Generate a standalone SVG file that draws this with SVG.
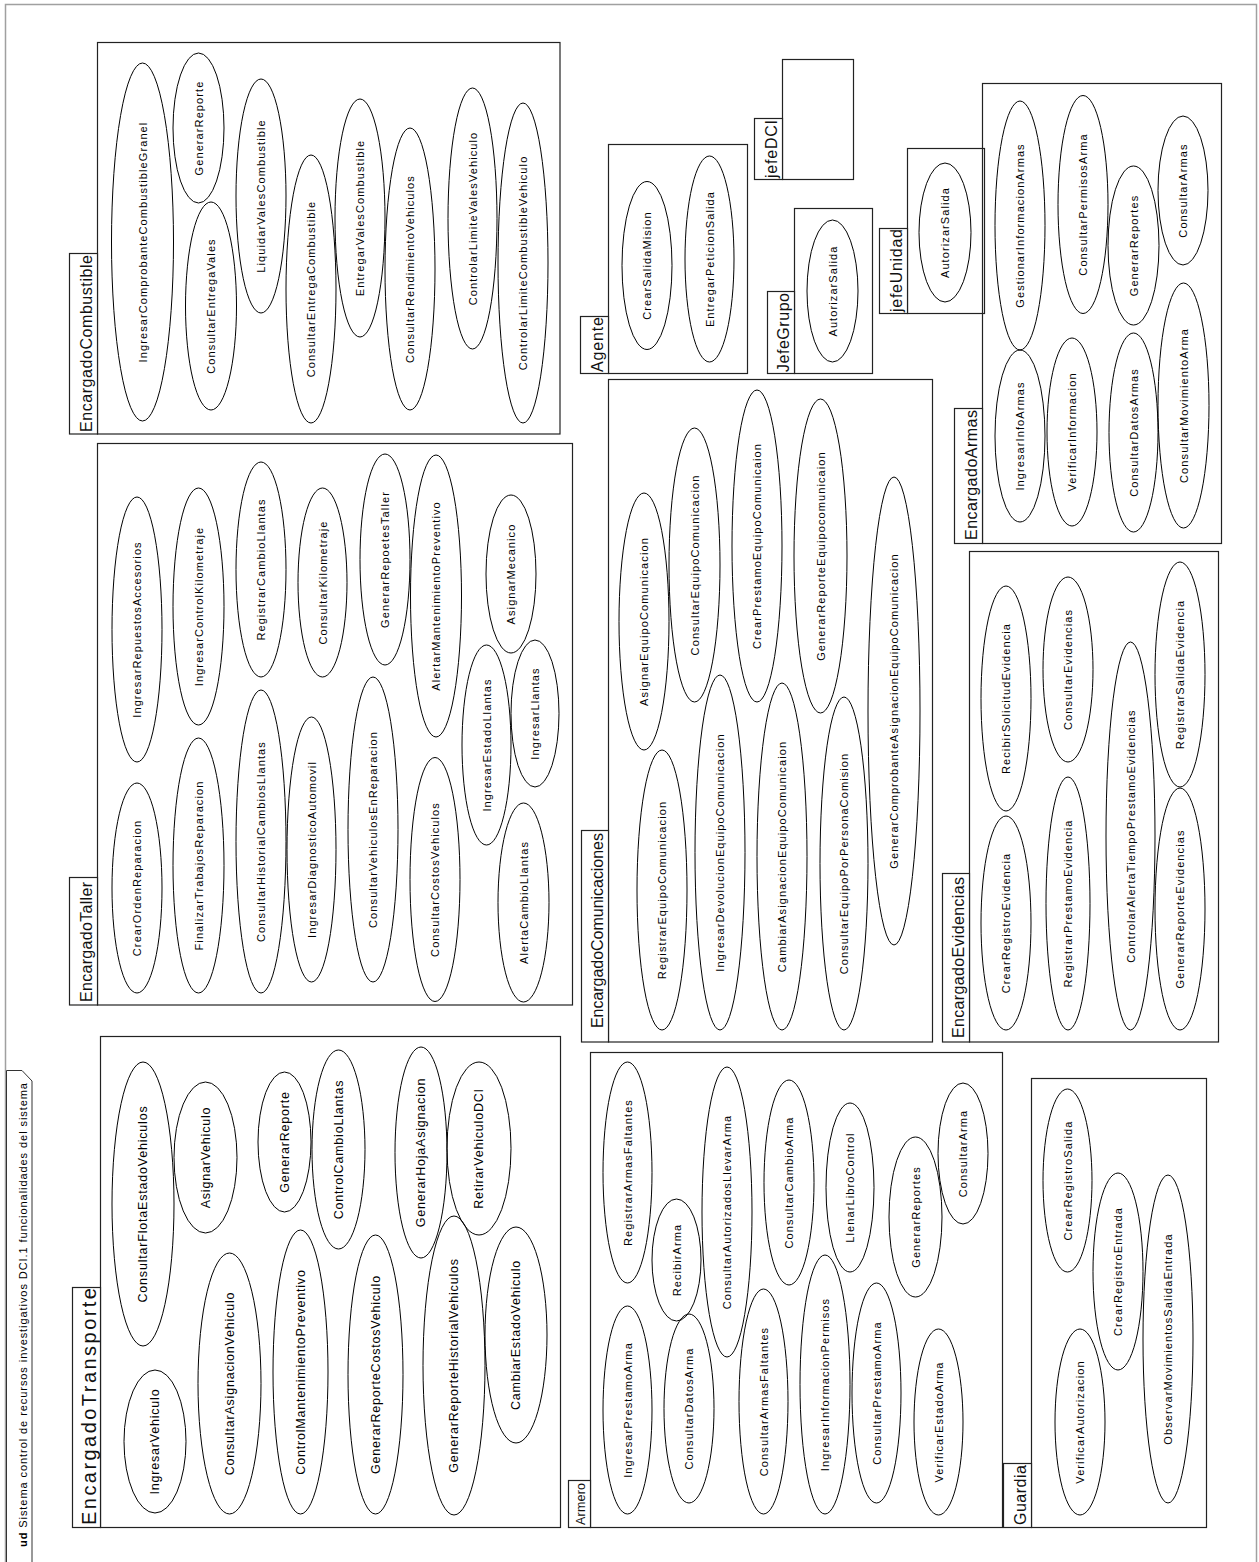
<svg xmlns="http://www.w3.org/2000/svg" width="1259" height="1562" viewBox="0 0 1259 1562">
<style>
.frame{fill:#fff;stroke:#a0a0a0;stroke-width:1.5}
.tabud{fill:#fff;stroke:#333;stroke-width:1}
.box{fill:none;stroke:#222;stroke-width:1.2}
.tab{fill:#fff;stroke:#222;stroke-width:1.2}
.uc ellipse{fill:none;stroke:#000;stroke-width:1}
.uc text{font-family:"Liberation Sans",Arial,sans-serif;font-size:11px;letter-spacing:1.1px;text-anchor:middle;dominant-baseline:central;fill:#000}
.big .uc text{font-size:12.5px;letter-spacing:0.8px}
.lbl{font-family:"Liberation Sans",Arial,sans-serif;font-size:16px;text-anchor:middle;dominant-baseline:central;fill:#111}
.ud{font-family:"Liberation Sans",Arial,sans-serif;font-size:11px;dominant-baseline:central;fill:#000}
</style>
<rect class="frame" x="5.5" y="4.5" width="1251" height="1580"/>
<polygon class="tabud" points="6.5,1575 6.5,1070.5 22,1070.5 32,1081 32,1575"/>
<text class="ud" x="23" y="1547" transform="rotate(-90 23 1547)" textLength="464" lengthAdjust="spacing"><tspan font-weight="bold">ud</tspan> Sistema control de recursos investigativos DCI.1 funcionalidades del sistema</text>
<g id="connectors"/>

<g id="EncargadoCombustible">
<rect class="box" x="97.5" y="42.5" width="462.5" height="391.5"/>
<rect class="tab" x="69.5" y="253.5" width="28" height="180.5"/>
<text class="lbl" x="86" y="343.5" transform="rotate(-90 86 343.5)" textLength="177" lengthAdjust="spacing">EncargadoCombustible</text>
<g class="uc" id="uc-IngresarComprobanteCombustibleGranel"><ellipse cx="142.5" cy="242" rx="31" ry="179"/><text x="142.5" y="242" transform="rotate(-90 142.5 242)">IngresarComprobanteCombustibleGranel</text></g>
<g class="uc" id="uc-GenerarReporte-comb"><ellipse cx="198.5" cy="128" rx="25.5" ry="75"/><text x="198.5" y="128" transform="rotate(-90 198.5 128)">GenerarReporte</text></g>
<g class="uc" id="uc-ConsultarEntregaVales"><ellipse cx="211" cy="306" rx="25.5" ry="104"/><text x="211" y="306" transform="rotate(-90 211 306)">ConsultarEntregaVales</text></g>
<g class="uc" id="uc-LiquidarValesCombustible"><ellipse cx="261" cy="196" rx="25" ry="117"/><text x="261" y="196" transform="rotate(-90 261 196)">LiquidarValesCombustible</text></g>
<g class="uc" id="uc-ConsultarEntregaCombustible"><ellipse cx="311" cy="289" rx="25" ry="134"/><text x="311" y="289" transform="rotate(-90 311 289)">ConsultarEntregaCombustible</text></g>
<g class="uc" id="uc-EntregarValesCombustible"><ellipse cx="360" cy="218" rx="25" ry="119"/><text x="360" y="218" transform="rotate(-90 360 218)">EntregarValesCombustible</text></g>
<g class="uc" id="uc-ConsultarRendimientoVehiculos"><ellipse cx="410" cy="269" rx="25" ry="141"/><text x="410" y="269" transform="rotate(-90 410 269)">ConsultarRendimientoVehiculos</text></g>
<g class="uc" id="uc-ControlarLimiteValesVehiculo"><ellipse cx="472.5" cy="218.5" rx="24.5" ry="130.5"/><text x="472.5" y="218.5" transform="rotate(-90 472.5 218.5)">ControlarLimiteValesVehiculo</text></g>
<g class="uc" id="uc-ControlarLimiteCombustibleVehiculo"><ellipse cx="523" cy="263" rx="25" ry="160"/><text x="523" y="263" transform="rotate(-90 523 263)">ControlarLimiteCombustibleVehiculo</text></g>
</g>

<g id="EncargadoTaller">
<rect class="box" x="97.5" y="443.5" width="475" height="561.5"/>
<rect class="tab" x="69.5" y="877.5" width="28" height="127.5"/>
<text class="lbl" x="86" y="942" transform="rotate(-90 86 942)" textLength="120" lengthAdjust="spacing">EncargadoTaller</text>
<g class="uc" id="uc-CrearOrdenReparacion"><ellipse cx="137" cy="888" rx="25" ry="105"/><text x="137" y="888" transform="rotate(-90 137 888)">CrearOrdenReparacion</text></g>
<g class="uc" id="uc-IngresarRepuestosAccesorios"><ellipse cx="137" cy="629.5" rx="25" ry="132.5"/><text x="137" y="629.5" transform="rotate(-90 137 629.5)">IngresarRepuestosAccesorios</text></g>
<g class="uc" id="uc-FinalizarTrabajosReparacion"><ellipse cx="198.5" cy="865.5" rx="25.5" ry="127.5"/><text x="198.5" y="865.5" transform="rotate(-90 198.5 865.5)">FinalizarTrabajosReparacion</text></g>
<g class="uc" id="uc-IngresarControlKilometraje"><ellipse cx="198.5" cy="606.5" rx="25.5" ry="118.5"/><text x="198.5" y="606.5" transform="rotate(-90 198.5 606.5)">IngresarControlKilometraje</text></g>
<g class="uc" id="uc-ConsultarHistorialCambiosLlantas"><ellipse cx="261" cy="841.5" rx="25" ry="151.5"/><text x="261" y="841.5" transform="rotate(-90 261 841.5)">ConsultarHistorialCambiosLlantas</text></g>
<g class="uc" id="uc-RegistrarCambioLlantas"><ellipse cx="261" cy="569.5" rx="25" ry="107.5"/><text x="261" y="569.5" transform="rotate(-90 261 569.5)">RegistrarCambioLlantas</text></g>
<g class="uc" id="uc-IngresarDiagnosticoAutomovil"><ellipse cx="311.5" cy="849.5" rx="24.5" ry="132.5"/><text x="311.5" y="849.5" transform="rotate(-90 311.5 849.5)">IngresarDiagnosticoAutomovil</text></g>
<g class="uc" id="uc-ConsultarKilometraje"><ellipse cx="322.5" cy="582.5" rx="24.5" ry="94.5"/><text x="322.5" y="582.5" transform="rotate(-90 322.5 582.5)">ConsultarKilometraje</text></g>
<g class="uc" id="uc-ConsultarVehiculosEnReparacion"><ellipse cx="373" cy="829.5" rx="25" ry="152.5"/><text x="373" y="829.5" transform="rotate(-90 373 829.5)">ConsultarVehiculosEnReparacion</text></g>
<g class="uc" id="uc-GenerarRepoetesTaller"><ellipse cx="385" cy="559.5" rx="25" ry="105.5"/><text x="385" y="559.5" transform="rotate(-90 385 559.5)">GenerarRepoetesTaller</text></g>
<g class="uc" id="uc-AlertarMantenimientoPreventivo"><ellipse cx="436" cy="596" rx="25.5" ry="141"/><text x="436" y="596" transform="rotate(-90 436 596)">AlertarMantenimientoPreventivo</text></g>
<g class="uc" id="uc-ConsultarCostosVehiculos"><ellipse cx="435" cy="879.5" rx="25" ry="122"/><text x="435" y="879.5" transform="rotate(-90 435 879.5)">ConsultarCostosVehiculos</text></g>
<g class="uc" id="uc-IngresarEstadoLlantas"><ellipse cx="486.5" cy="745" rx="24.5" ry="100"/><text x="486.5" y="745" transform="rotate(-90 486.5 745)">IngresarEstadoLlantas</text></g>
<g class="uc" id="uc-AlertaCambioLlantas"><ellipse cx="523.5" cy="902.5" rx="25.5" ry="99.5"/><text x="523.5" y="902.5" transform="rotate(-90 523.5 902.5)">AlertaCambioLlantas</text></g>
<g class="uc" id="uc-IngresarLlantas"><ellipse cx="535" cy="713.5" rx="24" ry="73.5"/><text x="535" y="713.5" transform="rotate(-90 535 713.5)">IngresarLlantas</text></g>
<g class="uc" id="uc-AsignarMecanico"><ellipse cx="511" cy="574" rx="25" ry="79"/><text x="511" y="574" transform="rotate(-90 511 574)">AsignarMecanico</text></g>
</g>

<g id="EncargadoTransporte" class="big">
<rect class="box" x="100.5" y="1036.5" width="460" height="491"/>
<rect class="tab" x="72.5" y="1287.5" width="28" height="240"/>
<text class="lbl" x="88.5" y="1406.5" transform="rotate(-90 88.5 1406.5)" style="font-size:20px" textLength="237" lengthAdjust="spacing">EncargadoTransporte</text>
<g class="uc" id="uc-IngresarVehiculo"><ellipse cx="155" cy="1441.5" rx="31" ry="71.5"/><text x="155" y="1441.5" transform="rotate(-90 155 1441.5)">IngresarVehiculo</text></g>
<g class="uc" id="uc-ConsultarFlotaEstadoVehiculos"><ellipse cx="143" cy="1204" rx="31" ry="142"/><text x="143" y="1204" transform="rotate(-90 143 1204)">ConsultarFlotaEstadoVehiculos</text></g>
<g class="uc" id="uc-AsignarVehiculo"><ellipse cx="205.5" cy="1157.5" rx="31.5" ry="75.5"/><text x="205.5" y="1157.5" transform="rotate(-90 205.5 1157.5)">AsignarVehiculo</text></g>
<g class="uc" id="uc-ConsultarAsignacionVehiculo"><ellipse cx="229.5" cy="1383.5" rx="31.5" ry="130.5"/><text x="229.5" y="1383.5" transform="rotate(-90 229.5 1383.5)">ConsultarAsignacionVehiculo</text></g>
<g class="uc" id="uc-GenerarReporte-trans"><ellipse cx="284.5" cy="1142" rx="26.5" ry="70"/><text x="284.5" y="1142" transform="rotate(-90 284.5 1142)">GenerarReporte</text></g>
<g class="uc" id="uc-ControlCambioLlantas"><ellipse cx="338.5" cy="1149.5" rx="26.5" ry="99.5"/><text x="338.5" y="1149.5" transform="rotate(-90 338.5 1149.5)">ControlCambioLlantas</text></g>
<g class="uc" id="uc-ControlMantenimientoPreventivo"><ellipse cx="300.5" cy="1372" rx="27.5" ry="142"/><text x="300.5" y="1372" transform="rotate(-90 300.5 1372)">ControlMantenimientoPreventivo</text></g>
<g class="uc" id="uc-GenerarReporteCostosVehiculo"><ellipse cx="375.5" cy="1374.5" rx="27.5" ry="139.5"/><text x="375.5" y="1374.5" transform="rotate(-90 375.5 1374.5)">GenerarReporteCostosVehiculo</text></g>
<g class="uc" id="uc-GenerarHojaAsignacion"><ellipse cx="421" cy="1152.5" rx="26" ry="105.5"/><text x="421" y="1152.5" transform="rotate(-90 421 1152.5)">GenerarHojaAsignacion</text></g>
<g class="uc" id="uc-GenerarReporteHistorialVehiculos"><ellipse cx="454" cy="1365.5" rx="31" ry="149.5"/><text x="454" y="1365.5" transform="rotate(-90 454 1365.5)">GenerarReporteHistorialVehiculos</text></g>
<g class="uc" id="uc-RetirarVehiculoDCI"><ellipse cx="479" cy="1148.5" rx="32" ry="86.5"/><text x="479" y="1148.5" transform="rotate(-90 479 1148.5)">RetirarVehiculoDCI</text></g>
<g class="uc" id="uc-CambiarEstadoVehiculo"><ellipse cx="516" cy="1335" rx="31" ry="108"/><text x="516" y="1335" transform="rotate(-90 516 1335)">CambiarEstadoVehiculo</text></g>
</g>

<g id="Agente">
<rect class="box" x="608.5" y="144.5" width="139" height="229"/>
<rect class="tab" x="580.5" y="316.5" width="28" height="57"/>
<text class="lbl" x="597" y="344.5" transform="rotate(-90 597 344.5)" textLength="55" lengthAdjust="spacing">Agente</text>
<g class="uc" id="uc-CrearSalidaMision"><ellipse cx="647" cy="265.5" rx="25" ry="84"/><text x="647" y="265.5" transform="rotate(-90 647 265.5)">CrearSalidaMision</text></g>
<g class="uc" id="uc-EntregarPeticionSalida"><ellipse cx="709.5" cy="259" rx="24.5" ry="103"/><text x="709.5" y="259" transform="rotate(-90 709.5 259)">EntregarPeticionSalida</text></g>
</g>

<g id="jefeDCI">
<rect class="box" x="782.5" y="59.5" width="71" height="120"/>
<rect class="tab" x="754.5" y="118.5" width="28" height="61"/>
<text class="lbl" x="771" y="149" transform="rotate(-90 771 149)" textLength="58" lengthAdjust="spacing">jefeDCI</text>
</g>

<g id="JefeGrupo">
<rect class="box" x="794.5" y="208.5" width="78" height="165"/>
<rect class="tab" x="767.5" y="291.5" width="27" height="82"/>
<text class="lbl" x="783.5" y="332.5" transform="rotate(-90 783.5 332.5)" textLength="79" lengthAdjust="spacing">JefeGrupo</text>
<g class="uc" id="uc-AutorizarSalida-grupo"><ellipse cx="832.5" cy="291" rx="25.5" ry="71"/><text x="832.5" y="291" transform="rotate(-90 832.5 291)">AutorizarSalida</text></g>
</g>

<g id="jefeUnidad">
<rect class="box" x="907.5" y="148.5" width="77" height="165"/>
<rect class="tab" x="879.5" y="228.5" width="28" height="85"/>
<text class="lbl" x="896" y="270.5" transform="rotate(-90 896 270.5)" textLength="83" lengthAdjust="spacing">jefeUnidad</text>
<g class="uc" id="uc-AutorizarSalida-unidad"><ellipse cx="945" cy="232.5" rx="26" ry="69.5"/><text x="945" y="232.5" transform="rotate(-90 945 232.5)">AutorizarSalida</text></g>
</g>

<g id="EncargadoArmas">
<rect class="box" x="982.5" y="83.5" width="239" height="460"/>
<rect class="tab" x="954.5" y="408.5" width="28" height="135"/>
<text class="lbl" x="971" y="475" transform="rotate(-90 971 475)" textLength="130" lengthAdjust="spacing">EncargadoArmas</text>
<g class="uc" id="uc-GestionarInformacionArmas"><ellipse cx="1020" cy="225.5" rx="25" ry="124.5"/><text x="1020" y="225.5" transform="rotate(-90 1020 225.5)">GestionarInformacionArmas</text></g>
<g class="uc" id="uc-ConsultarPermisosArma"><ellipse cx="1083" cy="204.5" rx="25" ry="109"/><text x="1083" y="204.5" transform="rotate(-90 1083 204.5)">ConsultarPermisosArma</text></g>
<g class="uc" id="uc-GenerarReportes-armas"><ellipse cx="1133.5" cy="245.5" rx="25.5" ry="79.5"/><text x="1133.5" y="245.5" transform="rotate(-90 1133.5 245.5)">GenerarReportes</text></g>
<g class="uc" id="uc-ConsultarArmas"><ellipse cx="1183" cy="190.5" rx="25" ry="74.5"/><text x="1183" y="190.5" transform="rotate(-90 1183 190.5)">ConsultarArmas</text></g>
<g class="uc" id="uc-IngresarInfoArmas"><ellipse cx="1020" cy="436" rx="25" ry="86"/><text x="1020" y="436" transform="rotate(-90 1020 436)">IngresarInfoArmas</text></g>
<g class="uc" id="uc-VerificarInformacion"><ellipse cx="1072" cy="432" rx="25" ry="94"/><text x="1072" y="432" transform="rotate(-90 1072 432)">VerificarInformacion</text></g>
<g class="uc" id="uc-ConsultarDatosArmas"><ellipse cx="1133.5" cy="432.5" rx="24.5" ry="99.5"/><text x="1133.5" y="432.5" transform="rotate(-90 1133.5 432.5)">ConsultarDatosArmas</text></g>
<g class="uc" id="uc-ConsultarMovimientoArma"><ellipse cx="1183.5" cy="405.5" rx="25.5" ry="122.5"/><text x="1183.5" y="405.5" transform="rotate(-90 1183.5 405.5)">ConsultarMovimientoArma</text></g>
</g>

<g id="EncargadoComunicaciones">
<rect class="box" x="608.5" y="379.5" width="324" height="662.5"/>
<rect class="tab" x="581.5" y="830.5" width="27" height="211.5"/>
<text class="lbl" x="597.5" y="930.5" transform="rotate(-90 597.5 930.5)" textLength="195" lengthAdjust="spacing">EncargadoComunicaciones</text>
<g class="uc" id="uc-AsignarEquipoComunicacion"><ellipse cx="644" cy="621.5" rx="25" ry="128.5"/><text x="644" y="621.5" transform="rotate(-90 644 621.5)">AsignarEquipoComunicacion</text></g>
<g class="uc" id="uc-RegistrarEquipoComunicacion"><ellipse cx="662" cy="890" rx="25" ry="140"/><text x="662" y="890" transform="rotate(-90 662 890)">RegistrarEquipoComunicacion</text></g>
<g class="uc" id="uc-ConsultarEquipoComunicacion"><ellipse cx="694.5" cy="565" rx="25.5" ry="137"/><text x="694.5" y="565" transform="rotate(-90 694.5 565)">ConsultarEquipoComunicacion</text></g>
<g class="uc" id="uc-IngresarDevolucionEquipoComunicacion"><ellipse cx="720" cy="852.5" rx="25" ry="177.5"/><text x="720" y="852.5" transform="rotate(-90 720 852.5)">IngresarDevolucionEquipoComunicacion</text></g>
<g class="uc" id="uc-CrearPrestamoEquipoComunicaion"><ellipse cx="757" cy="546" rx="25" ry="156"/><text x="757" y="546" transform="rotate(-90 757 546)">CrearPrestamoEquipoComunicaion</text></g>
<g class="uc" id="uc-CambiarAsignacionEquipoComunicaion"><ellipse cx="782" cy="856.5" rx="25" ry="173.5"/><text x="782" y="856.5" transform="rotate(-90 782 856.5)">CambiarAsignacionEquipoComunicaion</text></g>
<g class="uc" id="uc-GenerarReporteEquipocomunicaion"><ellipse cx="820.5" cy="556" rx="26.5" ry="157"/><text x="820.5" y="556" transform="rotate(-90 820.5 556)">GenerarReporteEquipocomunicaion</text></g>
<g class="uc" id="uc-ConsultarEquipoPorPersonaComision"><ellipse cx="844" cy="863.5" rx="24" ry="166.5"/><text x="844" y="863.5" transform="rotate(-90 844 863.5)">ConsultarEquipoPorPersonaComision</text></g>
<g class="uc" id="uc-GenerarComprobanteAsignacionEquipoComunicacion"><ellipse cx="894" cy="711" rx="26" ry="234"/><text x="894" y="711" transform="rotate(-90 894 711)">GenerarComprobanteAsignacionEquipoComunicacion</text></g>
</g>

<g id="EncargadoEvidencias">
<rect class="box" x="969.5" y="551.5" width="249" height="490.5"/>
<rect class="tab" x="942.5" y="873.5" width="27" height="168.5"/>
<text class="lbl" x="958.5" y="957.5" transform="rotate(-90 958.5 957.5)" textLength="161" lengthAdjust="spacing">EncargadoEvidencias</text>
<g class="uc" id="uc-RecibirSolicitudEvidencia"><ellipse cx="1006" cy="698.5" rx="25" ry="112.5"/><text x="1006" y="698.5" transform="rotate(-90 1006 698.5)">RecibirSolicitudEvidencia</text></g>
<g class="uc" id="uc-CrearRegistroEvidencia"><ellipse cx="1006" cy="923" rx="25" ry="107"/><text x="1006" y="923" transform="rotate(-90 1006 923)">CrearRegistroEvidencia</text></g>
<g class="uc" id="uc-ConsultarEvidencias"><ellipse cx="1068" cy="669.5" rx="25" ry="92.5"/><text x="1068" y="669.5" transform="rotate(-90 1068 669.5)">ConsultarEvidencias</text></g>
<g class="uc" id="uc-RegistrarPrestamoEvidencia"><ellipse cx="1068" cy="903.5" rx="22" ry="126.5"/><text x="1068" y="903.5" transform="rotate(-90 1068 903.5)">RegistrarPrestamoEvidencia</text></g>
<g class="uc" id="uc-ControlarAlertaTiempoPrestamoEvidencias"><ellipse cx="1130.5" cy="836" rx="24.5" ry="194"/><text x="1130.5" y="836" transform="rotate(-90 1130.5 836)">ControlarAlertaTiempoPrestamoEvidencias</text></g>
<g class="uc" id="uc-RegistrarSalidaEvidencia"><ellipse cx="1180" cy="674.5" rx="25" ry="112.5"/><text x="1180" y="674.5" transform="rotate(-90 1180 674.5)">RegistrarSalidaEvidencia</text></g>
<g class="uc" id="uc-GenerarReporteEvidencias"><ellipse cx="1180" cy="909" rx="25" ry="121"/><text x="1180" y="909" transform="rotate(-90 1180 909)">GenerarReporteEvidencias</text></g>
</g>

<g id="Armero">
<rect class="box" x="590.5" y="1052.5" width="412" height="475"/>
<rect class="tab" x="568.5" y="1480.5" width="22" height="47"/>
<text class="lbl" x="580.5" y="1504" transform="rotate(-90 580.5 1504)" style="font-size:12.5px" textLength="42" lengthAdjust="spacing">Armero</text>
<g class="uc" id="uc-RegistrarArmasFaltantes"><ellipse cx="627.5" cy="1172.5" rx="24.5" ry="110.5"/><text x="627.5" y="1172.5" transform="rotate(-90 627.5 1172.5)">RegistrarArmasFaltantes</text></g>
<g class="uc" id="uc-IngresarPrestamoArma"><ellipse cx="627.5" cy="1410" rx="24.5" ry="104"/><text x="627.5" y="1410" transform="rotate(-90 627.5 1410)">IngresarPrestamoArma</text></g>
<g class="uc" id="uc-RecibirArma"><ellipse cx="676.5" cy="1260" rx="24.5" ry="61"/><text x="676.5" y="1260" transform="rotate(-90 676.5 1260)">RecibirArma</text></g>
<g class="uc" id="uc-ConsultarDatosArma"><ellipse cx="689" cy="1408.5" rx="25" ry="94.5"/><text x="689" y="1408.5" transform="rotate(-90 689 1408.5)">ConsultarDatosArma</text></g>
<g class="uc" id="uc-ConsultarAutorizadosLlevarArma"><ellipse cx="727" cy="1212" rx="25" ry="145"/><text x="727" y="1212" transform="rotate(-90 727 1212)">ConsultarAutorizadosLlevarArma</text></g>
<g class="uc" id="uc-ConsultarArmasFaltantes"><ellipse cx="763.5" cy="1401.5" rx="24.5" ry="112.5"/><text x="763.5" y="1401.5" transform="rotate(-90 763.5 1401.5)">ConsultarArmasFaltantes</text></g>
<g class="uc" id="uc-ConsultarCambioArma"><ellipse cx="789" cy="1182.5" rx="25" ry="102.5"/><text x="789" y="1182.5" transform="rotate(-90 789 1182.5)">ConsultarCambioArma</text></g>
<g class="uc" id="uc-IngresarInformacionPermisos"><ellipse cx="825" cy="1384.5" rx="25" ry="129.5"/><text x="825" y="1384.5" transform="rotate(-90 825 1384.5)">IngresarInformacionPermisos</text></g>
<g class="uc" id="uc-LlenarLibroControl"><ellipse cx="850" cy="1187.5" rx="24" ry="84.5"/><text x="850" y="1187.5" transform="rotate(-90 850 1187.5)">LlenarLibroControl</text></g>
<g class="uc" id="uc-ConsultarPrestamoArma"><ellipse cx="876.5" cy="1393" rx="24.5" ry="110"/><text x="876.5" y="1393" transform="rotate(-90 876.5 1393)">ConsultarPrestamoArma</text></g>
<g class="uc" id="uc-GenerarReportes-armero"><ellipse cx="915.5" cy="1217" rx="26.5" ry="80"/><text x="915.5" y="1217" transform="rotate(-90 915.5 1217)">GenerarReportes</text></g>
<g class="uc" id="uc-ConsultarArma"><ellipse cx="963" cy="1153.5" rx="25" ry="70.5"/><text x="963" y="1153.5" transform="rotate(-90 963 1153.5)">ConsultarArma</text></g>
<g class="uc" id="uc-VerificarEstadoArma"><ellipse cx="938.5" cy="1422" rx="24.5" ry="93"/><text x="938.5" y="1422" transform="rotate(-90 938.5 1422)">VerificarEstadoArma</text></g>
</g>

<g id="Guardia">
<rect class="box" x="1031.5" y="1078.5" width="175" height="449"/>
<rect class="tab" x="1003.5" y="1463.5" width="28" height="64"/>
<text class="lbl" x="1020" y="1495" transform="rotate(-90 1020 1495)" textLength="60" lengthAdjust="spacing">Guardia</text>
<g class="uc" id="uc-CrearRegistroSalida"><ellipse cx="1067.5" cy="1180.5" rx="24.5" ry="91.5"/><text x="1067.5" y="1180.5" transform="rotate(-90 1067.5 1180.5)">CrearRegistroSalida</text></g>
<g class="uc" id="uc-VerificarAutorizacion"><ellipse cx="1080" cy="1422" rx="25" ry="93"/><text x="1080" y="1422" transform="rotate(-90 1080 1422)">VerificarAutorizacion</text></g>
<g class="uc" id="uc-CrearRegistroEntrada"><ellipse cx="1118" cy="1271.5" rx="25" ry="98.5"/><text x="1118" y="1271.5" transform="rotate(-90 1118 1271.5)">CrearRegistroEntrada</text></g>
<g class="uc" id="uc-ObservarMovimientosSalidaEntrada"><ellipse cx="1168" cy="1339" rx="25" ry="164"/><text x="1168" y="1339" transform="rotate(-90 1168 1339)">ObservarMovimientosSalidaEntrada</text></g>
</g>
</svg>
